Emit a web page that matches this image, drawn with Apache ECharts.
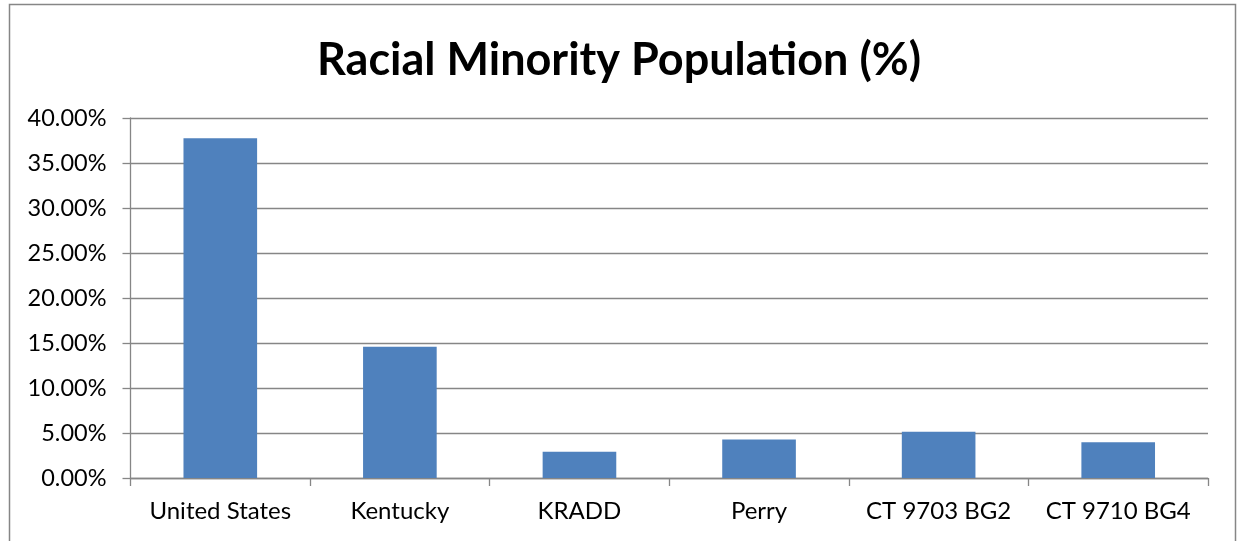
<!DOCTYPE html>
<html>
<head>
<meta charset="utf-8">
<script src="https://cdn.jsdelivr.net/npm/echarts@6/dist/echarts.min.js"></script>
<style>html,body{margin:0;padding:0;background:#fff}#c{width:1238px;height:541px}</style>
</head>
<body>
<div id="c"></div>
<script>
const categories = ['United States', 'Kentucky', 'KRADD', 'Perry', 'CT 9703 BG2', 'CT 9710 BG4'];
const values = [37.75, 14.58, 2.92, 4.28, 5.14, 3.96];
const yTicks = { min: 0, max: 40, interval: 5 };
const titleText = 'Racial Minority Population (%)';

const chart = echarts.init(document.getElementById('c'), null, { renderer: 'canvas' });
const font = 'Lato, "Open Sans", sans-serif';
chart.setOption({
  animation: false,
  backgroundColor: '#fff',
  title: {
    text: titleText,
    left: 'center',
    top: 33,
    textStyle: { fontFamily: font, fontWeight: 'bold', fontSize: 45, color: '#000' }
  },
  graphic: [{
    type: 'rect',
    shape: { x: 9.5, y: 4.5, width: 1226, height: 560 },
    style: { fill: 'none', stroke: '#868686', lineWidth: 1.5 },
    silent: true
  }],
  grid: { left: 130.5, right: 30, top: 118, bottom: 63, containLabel: false },
  xAxis: {
    type: 'category',
    data: categories,
    axisLine: { lineStyle: { color: '#868686', width: 1.3 } },
    axisTick: { show: true, interval: 0, length: 8, lineStyle: { color: '#868686', width: 1.3 } },
    axisLabel: { interval: 0, fontFamily: font, fontSize: 24, color: '#000', margin: 21 }
  },
  yAxis: {
    type: 'value',
    min: yTicks.min, max: yTicks.max, interval: yTicks.interval,
    axisLine: { show: true, lineStyle: { color: '#868686', width: 1.3 } },
    axisTick: { show: true, length: 8, lineStyle: { color: '#868686', width: 1.3 } },
    splitLine: { lineStyle: { color: '#868686', width: 1.3 } },
    axisLabel: { fontFamily: font, fontSize: 23.5, color: '#000', margin: 24,
      formatter: v => v.toFixed(2) + '%' }
  },
  series: [{
    type: 'bar',
    data: values,
    barWidth: '41%',
    itemStyle: { color: '#4F81BD' }
  }]
});
</script>
</body>
</html>
